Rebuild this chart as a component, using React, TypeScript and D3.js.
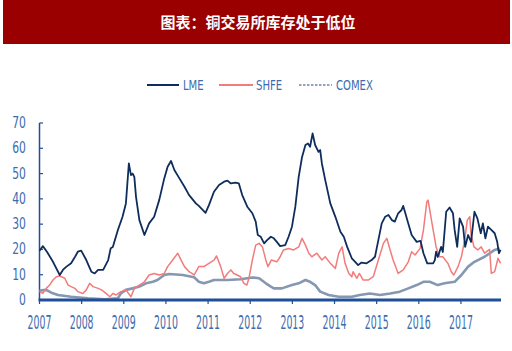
import React from "react";
import * as d3 from "d3";

const title = "图表：铜交易所库存处于低位";
const seriesNames = ["LME", "SHFE", "COMEX"];
const yTicks = [0, 10, 20, 30, 40, 50, 60, 70];
const xTicks = [2007, 2008, 2009, 2010, 2011, 2012, 2013, 2014, 2015, 2016, 2017];

const lmeT = [0, 0.08, 0.18, 0.32, 0.48, 0.56, 0.64, 0.75, 0.84, 0.91, 0.99, 1.11, 1.23, 1.31, 1.39, 1.51, 1.63, 1.69, 1.74, 1.86, 1.97, 2.05, 2.12, 2.17, 2.21, 2.25, 2.29, 2.37, 2.49, 2.6, 2.72, 2.84, 2.96, 3.04, 3.12, 3.2, 3.32, 3.44, 3.55, 3.71, 3.78, 3.94, 4.02, 4.14, 4.26, 4.38, 4.46, 4.54, 4.65, 4.73, 4.81, 4.93, 5.05, 5.13, 5.18, 5.25, 5.33, 5.4, 5.49, 5.56, 5.63, 5.71, 5.83, 5.91, 5.99, 6.07, 6.15, 6.23, 6.31, 6.37, 6.42, 6.48, 6.54, 6.62, 6.66, 6.7, 6.78, 6.9, 7.02, 7.14, 7.22, 7.3, 7.41, 7.49, 7.56, 7.64, 7.76, 7.88, 7.96, 8.04, 8.12, 8.2, 8.28, 8.36, 8.43, 8.51, 8.59, 8.63, 8.67, 8.75, 8.83, 8.95, 9.04, 9.11, 9.2, 9.34, 9.38, 9.41, 9.45, 9.53, 9.57, 9.65, 9.73, 9.81, 9.85, 9.91, 9.97, 10.05, 10.1, 10.17, 10.24, 10.32, 10.39, 10.47, 10.52, 10.58, 10.64, 10.72, 10.8, 10.86, 10.9, 10.94];
const lmeV = [19.5, 21.3, 19, 15.1, 9.9, 12, 13.2, 14.5, 17, 19.1, 19.5, 15.8, 11.2, 10.5, 11.9, 11.9, 15.8, 20.5, 21, 27.7, 32.9, 38.2, 54, 49.4, 50, 48.7, 40.8, 31.6, 25.7, 30.3, 32.9, 39.5, 48.1, 52.7, 55, 51.4, 48.1, 44.8, 41.5, 38.2, 37.2, 34.5, 37.5, 42.8, 45.5, 46.8, 47.2, 46.1, 46.4, 46.1, 41.5, 36.9, 34.3, 31, 25.7, 25, 22.4, 23.7, 25, 24.4, 23, 21.3, 21.7, 25, 29, 36.9, 48.7, 56.6, 61.3, 61.9, 60.6, 65.9, 61.3, 58.6, 59.3, 54, 47.4, 38.2, 32.9, 27, 25, 21, 16.5, 15.1, 13.8, 14.8, 14.5, 15.8, 17.1, 23.7, 30.3, 32.9, 33.6, 31.6, 31, 34.3, 35.6, 37.2, 34.9, 30.3, 25.7, 23, 23.4, 18.5, 14.5, 14.5, 15.8, 19.1, 17, 21, 19, 34.9, 36.6, 34.3, 27.7, 21, 32.3, 29, 21, 25.7, 23, 34.9, 32.3, 26.4, 30.3, 24.4, 29, 27.7, 26.4, 23, 18.5, 19.8];

const shfeT = [0, 0.08, 0.16, 0.24, 0.32, 0.4, 0.48, 0.6, 0.68, 0.75, 0.84, 0.91, 1.03, 1.11, 1.19, 1.27, 1.39, 1.47, 1.58, 1.67, 1.74, 1.82, 1.93, 2.05, 2.17, 2.25, 2.37, 2.49, 2.6, 2.72, 2.84, 2.96, 3.04, 3.16, 3.28, 3.36, 3.44, 3.55, 3.67, 3.78, 3.9, 4.02, 4.14, 4.2, 4.3, 4.38, 4.46, 4.54, 4.61, 4.69, 4.77, 4.85, 4.92, 4.97, 5.05, 5.13, 5.21, 5.29, 5.37, 5.42, 5.5, 5.63, 5.71, 5.79, 5.91, 6.03, 6.15, 6.23, 6.31, 6.39, 6.46, 6.58, 6.7, 6.78, 6.9, 7.02, 7.1, 7.18, 7.25, 7.34, 7.41, 7.44, 7.53, 7.59, 7.68, 7.8, 7.92, 8.04, 8.16, 8.24, 8.32, 8.39, 8.51, 8.63, 8.75, 8.83, 8.91, 9.03, 9.11, 9.19, 9.22, 9.3, 9.34, 9.41, 9.49, 9.57, 9.69, 9.77, 9.83, 9.93, 10.01, 10.09, 10.15, 10.21, 10.24, 10.31, 10.4, 10.48, 10.56, 10.68, 10.72, 10.8, 10.88, 10.94];
const shfeV = [3.3, 2.6, 4.6, 5.9, 7.9, 9.2, 9.5, 8.6, 5.9, 5.3, 4.6, 3.3, 2.6, 4, 6.6, 5.3, 4.6, 4, 2.6, 1.3, 2.6, 2, 3.3, 4, 1.3, 4.6, 5.9, 7.2, 9.9, 10.5, 9.9, 10.5, 13.2, 15.8, 18.5, 15.8, 13.2, 11.2, 9.9, 13.2, 13.2, 14.5, 15.8, 17.4, 13.2, 8.6, 10.5, 11.9, 10.5, 9.9, 9.2, 6.6, 5.9, 8.6, 15.8, 21.7, 22.4, 21, 15.8, 13.2, 15.8, 15.1, 17.1, 19.8, 20.4, 19.8, 21, 24.4, 21.7, 18.5, 17.1, 18.5, 15.8, 17.1, 14.5, 12.5, 18.5, 21, 14.5, 10.5, 9.2, 11.2, 8.6, 10.5, 7.9, 7.9, 9.2, 15.8, 22.4, 24.4, 19.8, 15.8, 10.5, 11.9, 15.1, 19.1, 17.8, 20.4, 27.7, 38.9, 39.5, 31.6, 27.7, 21, 17.1, 17.1, 14.5, 11.2, 9.9, 13.2, 17.1, 23.7, 31.6, 32.9, 25.7, 21, 19.8, 21, 18.5, 20, 10.5, 11.2, 16.5, 14.5];

const comexT = [0, 0.16, 0.28, 0.44, 0.75, 1.15, 1.55, 1.86, 1.93, 2.05, 2.21, 2.37, 2.53, 2.69, 2.8, 2.96, 3.08, 3.4, 3.67, 3.78, 3.9, 4.02, 4.14, 4.46, 4.77, 5.05, 5.21, 5.37, 5.49, 5.56, 5.75, 5.99, 6.15, 6.31, 6.42, 6.54, 6.66, 6.86, 7.1, 7.41, 7.6, 7.84, 8.08, 8.32, 8.55, 8.75, 8.95, 9.11, 9.26, 9.45, 9.61, 9.85, 10.01, 10.17, 10.32, 10.56, 10.8, 10.92];
const comexV = [3.7, 4, 2.9, 2, 1.3, 0.7, 0.3, 0.7, 2.6, 4, 4.6, 5.3, 6.6, 7.2, 7.9, 9.9, 10.3, 9.9, 9, 7.2, 6.6, 7.2, 7.9, 7.9, 8.2, 8.9, 8.6, 6.6, 5.3, 4.6, 4.6, 5.9, 6.6, 7.9, 7.2, 5.9, 3.3, 2, 1.3, 1.3, 2, 2.6, 2, 2.6, 3.3, 4.6, 5.9, 7.2, 7.2, 5.9, 6.6, 7.2, 9.9, 13.2, 15.1, 17.1, 19.8, 20.4];

const colors = ["#0f2d5c", "#f27b7b", "#8597b1"];
const widths = [1.8, 1.5, 2.6];
const axisColor = "#1f4f96";
const textColor = "#3d6cae";
const narrow = "'Liberation Sans Narrow', 'DejaVu Sans Condensed', Arial, sans-serif";

export default function App() {
  const W = 512, H = 351;
  const x = d3.scaleLinear().domain([2007, 2017.95]).range([39.5, 501]);
  const y = d3.scaleLinear().domain([0, 70]).range([300, 123]);
  const line = d3.line<[number, number]>().x(d => x(2007 + d[0])).y(d => y(d[1]));
  const data = [
    lmeT.map((t, i) => [t, lmeV[i]] as [number, number]),
    shfeT.map((t, i) => [t, shfeV[i]] as [number, number]),
    comexT.map((t, i) => [t, comexV[i]] as [number, number]),
  ];
  const order = [2, 1, 0];
  const legend = [
    { x1: 147, x2: 179, tx: 183 },
    { x1: 219, x2: 253, tx: 256 },
    { x1: 299, x2: 332, tx: 336 },
  ];
  return (
    <svg width={W} height={H} style={{ position: "absolute", left: 0, top: 0 }}>
      <rect x={0} y={0} width={W} height={H} fill="#fff" />
      <rect x={3} y={0} width={507} height={44} fill="#9b0000" />
      <text x={258} y={27.5} fill="#fff" fontSize={15} fontWeight="bold" textAnchor="middle"
        fontFamily="'Noto Sans CJK SC', sans-serif">{title}</text>
      {legend.map((l, i) => (
        <g key={i}>
          <line x1={l.x1} x2={l.x2} y1={85} y2={85} stroke={i === 2 ? "#6f87a9" : colors[i]}
            strokeWidth={i === 2 ? 1.3 : 2} strokeDasharray={i === 2 ? "2.5,1.5" : undefined} />
          <text x={l.tx} y={90} fill={textColor} fontSize={14} fontFamily={narrow}
            transform={`translate(${l.tx},0) scale(0.8,1) translate(${-l.tx},0)`}>{seriesNames[i]}</text>
        </g>
      ))}
      <line x1={39.5} x2={39.5} y1={123} y2={300} stroke={axisColor} strokeWidth={1.5} />
      {yTicks.map(v => (
        <g key={v}>
          <line x1={39.5} x2={43} y1={y(v)} y2={y(v)} stroke={axisColor} strokeWidth={1.2} />
          <text x={26} y={y(v) + 5} fill={textColor} fontSize={15} textAnchor="end" fontFamily={narrow}
            transform={`translate(26,0) scale(0.8,1) translate(-26,0)`}>{v}</text>
        </g>
      ))}
      {order.map(i => (
        <path key={i} d={line(data[i]) || ""} fill="none" stroke={colors[i]} strokeWidth={widths[i]}
          strokeLinejoin="round" />
      ))}
      <line x1={38.5} x2={501} y1={300} y2={300} stroke={axisColor} strokeWidth={3} />
      {xTicks.map(v => (
        <g key={v}>
          <line x1={x(v)} x2={x(v)} y1={300} y2={304} stroke={axisColor} strokeWidth={1.2} />
          <text x={x(v)} y={329} fill={textColor} fontSize={19} textAnchor="middle" fontFamily={narrow}
            transform={`translate(${x(v)},0) scale(0.55,1) translate(${-x(v)},0)`}>{v}</text>
        </g>
      ))}
    </svg>
  );
}
